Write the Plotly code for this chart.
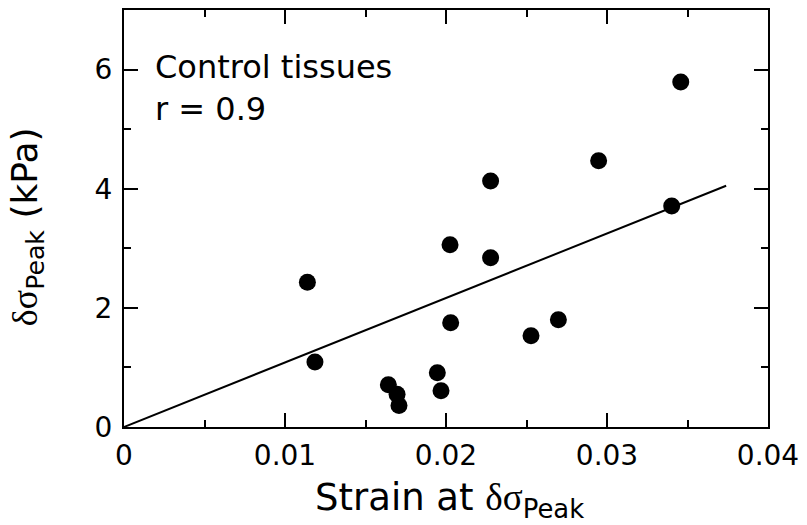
import plotly.graph_objects as go

# Data
strain = [0.01139, 0.01186, 0.01642, 0.01696, 0.01708, 0.01946, 0.01969,
          0.02029, 0.02025, 0.02277, 0.02277, 0.02528, 0.02698, 0.02948,
          0.03402, 0.03458]
dsigma = [2.43, 1.09, 0.71, 0.55, 0.36, 0.91, 0.61,
          1.75, 3.06, 4.13, 2.84, 1.53, 1.80, 4.47,
          3.71, 5.79]
fit_x = [0.0, 0.0374]
fit_y = [0.0, 4.05]

x_ticks = [0, 0.01, 0.02, 0.03, 0.04]
x_ticklabels = ["0", "0.01", "0.02", "0.03", "0.04"]
y_ticks = [0, 2, 4, 6]
y_ticklabels = ["0", "2", "4", "6"]

FONT = "DejaVu Sans"
SERIF = "Liberation Serif"
dsig = f'<span style="font-family:{SERIF}">δσ</span>'

fig = go.Figure()
fig.add_trace(go.Scatter(x=fit_x, y=fit_y, mode="lines",
                         line=dict(color="black", width=2), showlegend=False))
fig.add_trace(go.Scatter(x=strain, y=dsigma, mode="markers",
                         marker=dict(color="black", size=17), showlegend=False))

axis_common = dict(
    showline=True, linecolor="black", linewidth=2, mirror="ticks",
    ticks="inside", ticklen=14, tickwidth=2, tickcolor="black",
    showgrid=False, zeroline=False,
    tickfont=dict(family=FONT, size=28, color="black"),
)

fig.update_xaxes(
    range=[0, 0.04], tickvals=x_ticks, ticktext=x_ticklabels,
    minor=dict(ticks="inside", ticklen=7, tickwidth=2, dtick=0.005, tick0=0, tickcolor="black"),
    ticklabelstandoff=2,
    **axis_common,
)
fig.update_yaxes(
    range=[0, 7], tickvals=y_ticks, ticktext=y_ticklabels,
    minor=dict(ticks="inside", ticklen=7, tickwidth=2, dtick=1, tick0=0, tickcolor="black"),
    ticklabelstandoff=4,
    **axis_common,
)

# Axis titles as annotations for precise placement
fig.add_annotation(
    x=0.506, y=-0.113, xref="paper", yref="paper", xanchor="center", yanchor="top",
    text=f"Strain at {dsig}<sub>Peak</sub>", showarrow=False,
    font=dict(family=FONT, size=37, color="black"),
)
fig.add_annotation(
    x=-0.150, y=0.48, xref="paper", yref="paper", xanchor="center", yanchor="middle",
    text=f"{dsig}<sub>Peak</sub> (kPa)", showarrow=False, textangle=-90,
    font=dict(family=FONT, size=36, color="black"),
)

fig.add_annotation(
    x=0.0018, y=6.4, xref="x", yref="y", xanchor="left", yanchor="top",
    text="Control tissues<br>r = 0.9", showarrow=False, align="left",
    font=dict(family=FONT, size=32, color="black"),
)

fig.update_layout(
    width=807, height=525,
    margin=dict(l=124, r=39, t=10, b=98, autoexpand=False),
    plot_bgcolor="white", paper_bgcolor="white",
)

fig.write_html("out.html", config={"displayModeBar": False},
               post_script="document.body.style.margin='0';")
